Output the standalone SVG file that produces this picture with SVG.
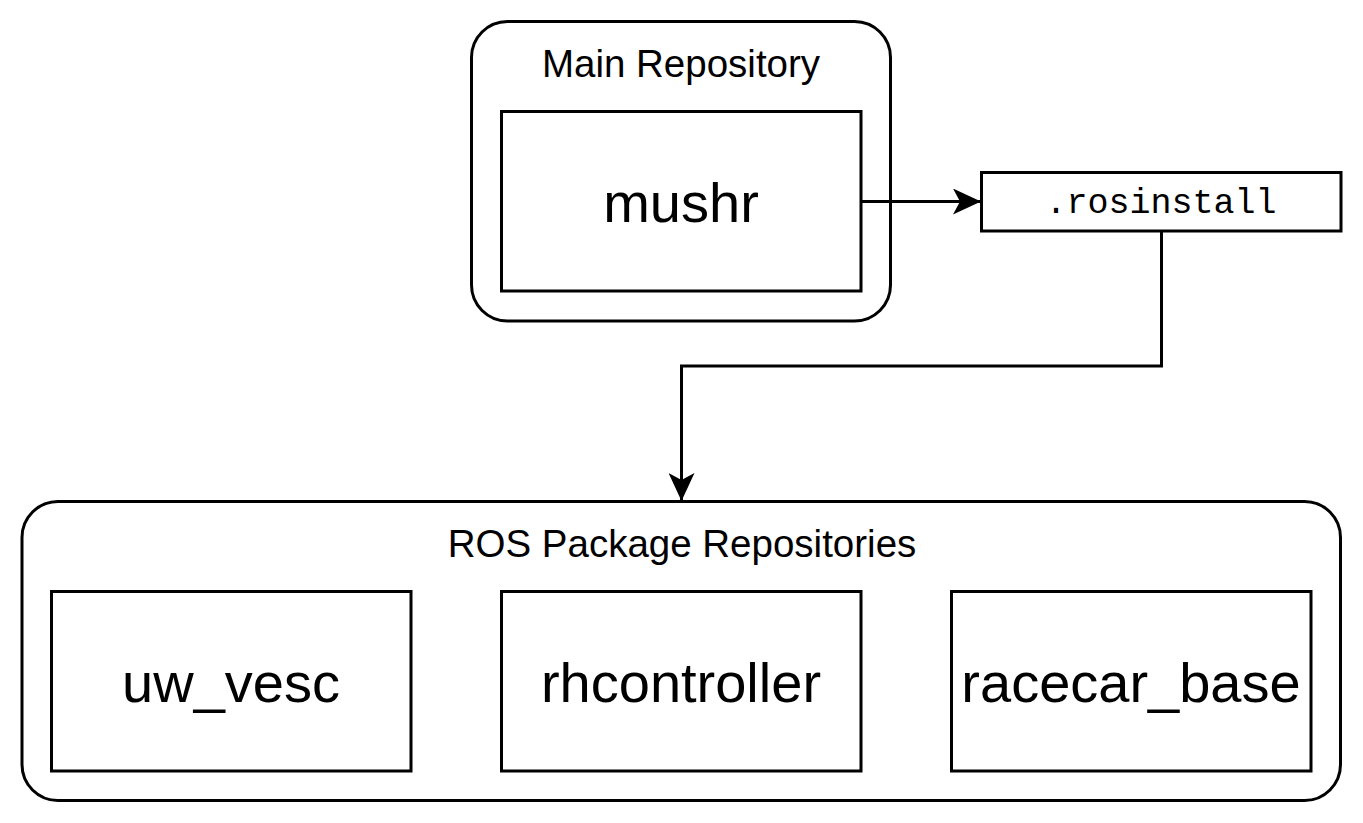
<svg xmlns="http://www.w3.org/2000/svg" width="1363" height="823" viewBox="0 0 1363 823">
<style>
.c{fill:#fff;stroke:#000;stroke-width:3}
.b{fill:#fff;stroke:#000;stroke-width:3}
.t{font-family:"Liberation Sans",Arial,Helvetica,sans-serif;fill:#000;text-anchor:middle}
.m{font-family:"Liberation Mono","Courier New",monospace;fill:#000;text-anchor:middle}
.e{fill:none;stroke:#000;stroke-width:3}
</style>
<defs>
<marker id="arr" viewBox="0 0 28 26" refX="28" refY="13" markerWidth="28" markerHeight="26" markerUnits="userSpaceOnUse" orient="auto">
<path d="M0,0 L28,13 L0,26 L7,13 Z" fill="#000"/>
</marker>
</defs>
<rect width="1363" height="823" fill="#fff"/>
<g id="main-repo">
<rect class="c" x="471.5" y="21.5" width="419" height="299.5" rx="36" ry="36"/>
<text class="t" x="681" y="77" font-size="38.5">Main Repository</text>
</g>
<g id="mushr">
<rect class="b" x="501.5" y="111.5" width="359.5" height="179.5"/>
<text class="t" x="681" y="222" font-size="56">mushr</text>
</g>
<g id="rosinstall">
<rect class="b" x="981.5" y="172.5" width="359.5" height="58.5"/>
<text class="m" x="1161" y="213" font-size="35">.rosinstall</text>
</g>
<g id="ros-packages">
<rect class="c" x="22" y="501.5" width="1318.5" height="299" rx="36" ry="36"/>
<text class="t" x="682" y="557" font-size="38.5">ROS Package Repositories</text>
</g>
<g id="uw_vesc">
<rect class="b" x="51.5" y="591.5" width="359.5" height="179.5"/>
<text class="t" x="231" y="702" font-size="56">uw_vesc</text>
</g>
<g id="rhcontroller">
<rect class="b" x="501.5" y="591.5" width="359.5" height="179.5"/>
<text class="t" x="681" y="702" font-size="56">rhcontroller</text>
</g>
<g id="racecar_base">
<rect class="b" x="951.5" y="591.5" width="359.5" height="179.5"/>
<text class="t" x="1131" y="702" font-size="56">racecar_base</text>
</g>
<g id="connectors">
<path class="e" d="M861,201.5 L981,201.5" marker-end="url(#arr)"/>
<path class="e" d="M1161.5,231 L1161.5,366 L681.5,366 L681.5,501" marker-end="url(#arr)"/>
</g>
</svg>
